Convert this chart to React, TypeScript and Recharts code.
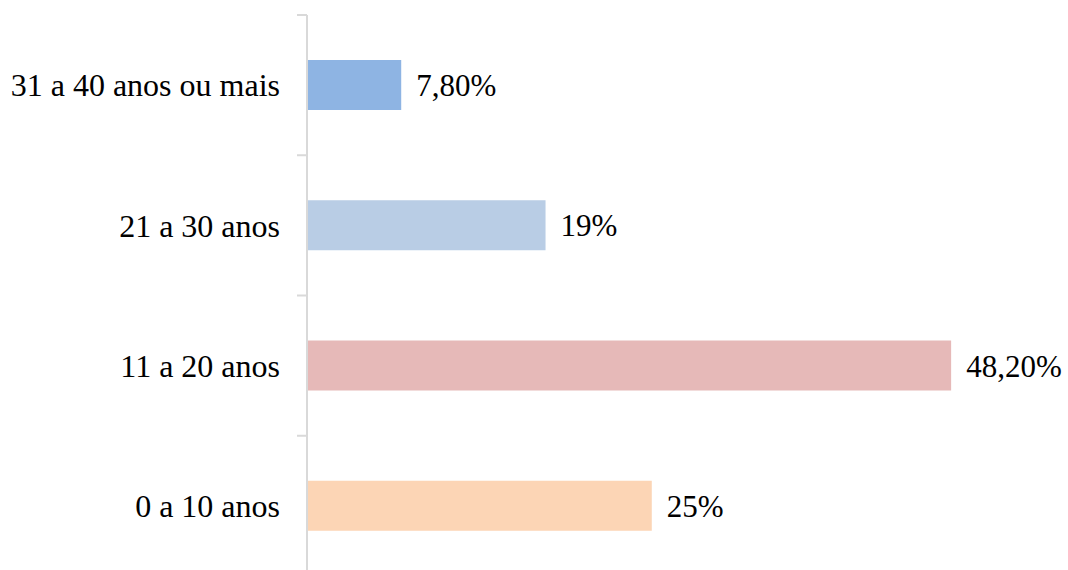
import React from "react";
import { BarChart, Bar, XAxis, YAxis, LabelList, Cell } from "recharts";

// faixas de idade, de cima para baixo
const categories = [
  "31 a 40 anos ou mais",
  "21 a 30 anos",
  "11 a 20 anos",
  "0 a 10 anos",
];

// comprimento das barras
const values = [7.05, 17.85, 48.2, 25.8];

// rótulos de valor como aparecem no gráfico
const valueLabels = ["7,80%", "19%", "48,20%", "25%"];

const colors = ["#8EB4E3", "#B9CDE5", "#E6B9B8", "#FCD5B5"];

const data = categories.map((name, i) => ({
  name,
  value: values[i],
  label: valueLabels[i],
}));

const font = "'Liberation Serif', 'Times New Roman', serif";
const axisColor = "#D9D9D9";

// rótulo da categoria + marca do eixo no limite de cada faixa
function CategoryTick(props: any) {
  const { x, y, payload, index, visibleTicksCount } = props;
  const half = payload?.offset ?? 0;
  const last = index === visibleTicksCount - 1;
  return (
    <g>
      <line x1={x - 10} x2={x} y1={y - half} y2={y - half} stroke={axisColor} strokeWidth={2} />
      {last && (
        <line x1={x - 10} x2={x} y1={y + half} y2={y + half} stroke={axisColor} strokeWidth={2} />
      )}
      <text
        x={x - 27}
        y={y}
        dy="0.355em"
        textAnchor="end"
        fill="#000"
        fontSize={32}
        fontFamily={font}
      >
        {payload.value}
      </text>
    </g>
  );
}

export default function App() {
  return (
    <div
      style={{
        position: "absolute",
        left: 0,
        top: 0,
        width: 1068,
        height: 570,
        overflow: "hidden",
        background: "white",
      }}
    >
      <BarChart
        width={1068}
        height={576}
        data={data}
        layout="vertical"
        margin={{ top: 15, right: 26, bottom: 0, left: 0 }}
        barSize={50}
      >
        <XAxis type="number" domain={[0, 55]} hide />
        <YAxis
          type="category"
          dataKey="name"
          width={307}
          axisLine={{ stroke: axisColor, strokeWidth: 2 }}
          tickLine={false}
          tickSize={0}
          tickMargin={0}
          tick={<CategoryTick />}
          interval={0}
        />
        <Bar dataKey="value" isAnimationActive={false}>
          {data.map((d, i) => (
            <Cell key={d.name} fill={colors[i]} />
          ))}
          <LabelList
            dataKey="label"
            position="right"
            offset={15}
            fill="#000"
            fontSize={31}
            fontFamily={font}
          />
        </Bar>
      </BarChart>
    </div>
  );
}
